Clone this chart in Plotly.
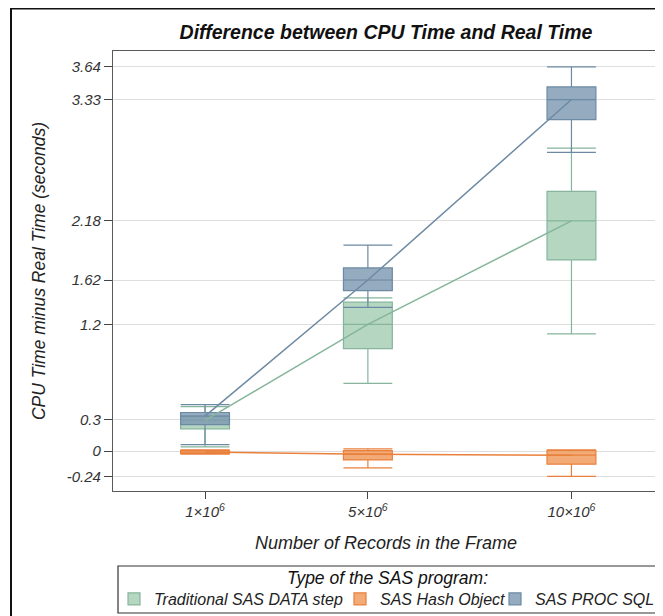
import plotly.graph_objects as go

# ---- data ----
records = [1, 5, 10]  # millions of records
tick_labels = ["1×10<sup>6</sup>", "5×10<sup>6</sup>", "10×10<sup>6</sup>"]
y_ticks = [-0.24, 0, 0.3, 1.2, 1.62, 2.18, 3.33, 3.64]

programs = ["Traditional SAS DATA step", "SAS Hash Object", "SAS PROC SQL"]

data_lf = [0.04, 0.64, 1.11]
data_q1 = [0.21, 0.97, 1.81]
data_med = [0.29, 1.20, 2.18]
data_q3 = [0.33, 1.41, 2.46]
data_uf = [0.42, 1.45, 2.87]

hash_lf = [-0.03, -0.16, -0.24]
hash_q1 = [-0.025, -0.085, -0.125]
hash_med = [-0.01, -0.03, -0.04]
hash_q3 = [0.005, 0.003, 0.006]
hash_uf = [0.01, 0.02, 0.01]

sql_lf = [0.06, 1.36, 2.83]
sql_q1 = [0.25, 1.52, 3.14]
sql_med = [0.33, 1.62, 3.33]
sql_q3 = [0.365, 1.735, 3.45]
sql_uf = [0.44, 1.95, 3.64]

# page body adds an 8px offset; figure coordinates = reference pixels - 8
OFF = 8
W, H = 663 - OFF, 616 - OFF
L, R, T, B = 113 - OFF, 659 - OFF, 51 - OFF, 491 - OFF


def px(x):
    return (x - OFF - L) / (R - L)


def py(y):
    return (B - (y - OFF)) / (B - T)


FONT = "Liberation Sans, Arial, sans-serif"

styles = [
    dict(fill="rgba(163,204,178,0.8)", line="#86b59c"),
    dict(fill="rgba(240,155,95,0.85)", line="#e9803c"),
    dict(fill="rgba(124,153,178,0.82)", line="#6c8aa3"),
]

series = [
    (data_lf, data_q1, data_med, data_q3, data_uf),
    (hash_lf, hash_q1, hash_med, hash_q3, hash_uf),
    (sql_lf, sql_q1, sql_med, sql_q3, sql_uf),
]

legend_ids = ["legend", "legend2", "legend3"]
legend_swatch_x = [127, 353, 508]  # reference pixel left edge of each swatch

fig = go.Figure()
for name, st, lg, (lf, q1, med, q3, uf) in zip(programs, styles, legend_ids, series):
    fig.add_trace(go.Box(
        name=name, x=records, lowerfence=lf, q1=q1, median=med, q3=q3,
        upperfence=uf, width=1.2, whiskerwidth=1, fillcolor=st["fill"],
        line=dict(color=st["line"], width=1.2), boxpoints=False,
        hoverinfo="skip", legend=lg,
    ))
for name, st, (lf, q1, med, q3, uf) in zip(programs, styles, series):
    fig.add_trace(go.Scatter(
        x=records, y=med, mode="lines", showlegend=False,
        line=dict(color=st["line"], width=1.5), hoverinfo="skip",
    ))

legend_common = dict(orientation="h", xanchor="left", yanchor="middle",
                     font=dict(size=16, style="italic", color="#222222"),
                     bgcolor="rgba(0,0,0,0)", borderwidth=0)
legends = {}
for lg, sx in zip(legend_ids, legend_swatch_x):
    legends[lg] = dict(legend_common, x=px(sx - 13), y=py(599))

fig.update_layout(
    width=W, height=H,
    margin=dict(l=L, r=W - R, t=T, b=H - B, pad=0, autoexpand=False),
    paper_bgcolor="white", plot_bgcolor="white",
    boxmode="overlay",
    font=dict(family=FONT, color="#222222"),
    title=dict(text="Difference between CPU Time and Real Time",
               x=0.5, xref="paper", xanchor="center",
               y=1 - (32 - OFF) / H, yref="container", yanchor="middle",
               font=dict(size=19.5, weight="bold", style="italic", color="#111111")),
    xaxis=dict(range=[-1.26, 12.15], tickvals=records, ticktext=tick_labels,
               ticks="outside", ticklen=7, tickcolor="#444444",
               showgrid=False, zeroline=False,
               showline=True, mirror=True, linecolor="#5a5a5a", linewidth=1.2,
               tickfont=dict(size=15, style="italic", color="#333333"),
               title=dict(text="Number of Records in the Frame", standoff=17,
                          font=dict(size=18, style="italic", color="#222222"))),
    yaxis=dict(range=[-0.379, 3.79], tickvals=y_ticks,
               ticktext=[f"{v:g}" for v in y_ticks],
               ticks="outside", ticklen=8, tickcolor="#444444",
               showgrid=True, gridcolor="#dedede", gridwidth=1, zeroline=False,
               showline=True, mirror=True, linecolor="#5a5a5a", linewidth=1.2,
               tickfont=dict(size=15, style="italic", color="#333333"),
               title=dict(text="CPU Time minus Real Time (seconds)", standoff=16,
                          font=dict(size=17.5, style="italic", color="#222222"))),
    annotations=[
        dict(text="Type of the SAS program:", xref="paper", yref="paper",
             x=px(387), y=py(578), xanchor="center", yanchor="middle",
             showarrow=False,
             font=dict(size=17.5, style="italic", color="#111111")),
    ],
    shapes=[
        dict(type="rect", xref="paper", yref="paper",
             x0=px(118), x1=px(660), y0=py(613), y1=py(566),
             line=dict(color="#333333", width=1.2)),
        dict(type="rect", xref="paper", yref="paper",
             x0=px(11), x1=px(680), y0=py(640), y1=py(8.5),
             line=dict(color="#111111", width=2)),
    ],
    **legends,
)

fig.write_html("out.html")
